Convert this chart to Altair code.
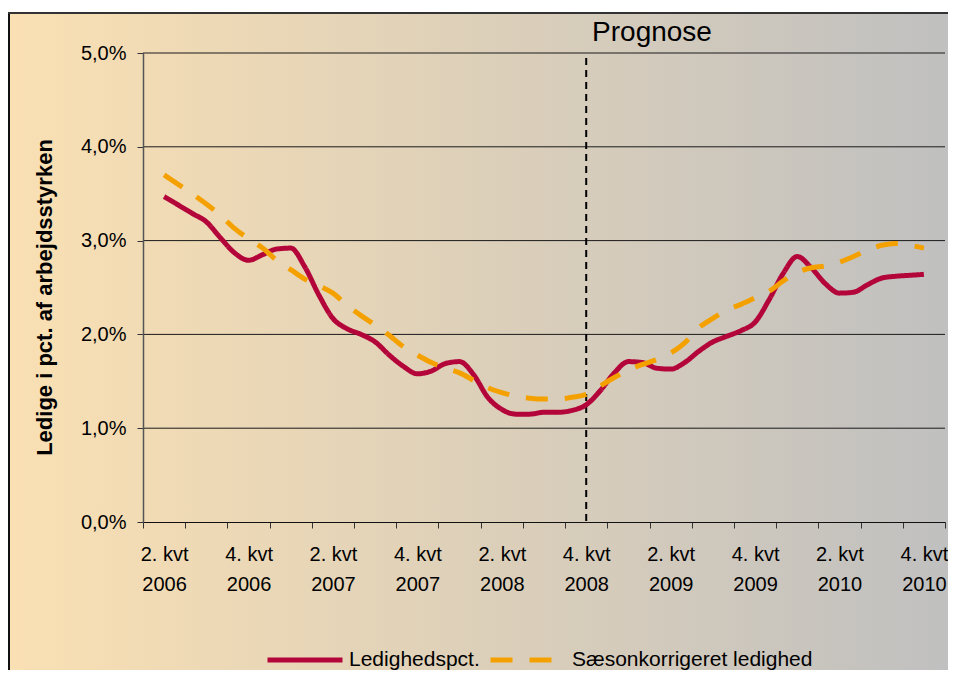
import json
import altair as alt
import pandas as pd

# ---- data ----
maaned = list(range(55))  # monthly points, 2. kvt 2006 .. 4. kvt 2010 (category centres)
ledighed = [3.47, 3.38, 3.29, 3.20, 3.03, 2.87, 2.79, 2.85, 2.91, 2.92,
            2.72, 2.42, 2.17, 2.06, 2.00, 1.92, 1.78, 1.66, 1.58, 1.61,
            1.69, 1.71, 1.57, 1.33, 1.20, 1.15, 1.15, 1.17, 1.17, 1.19,
            1.25, 1.40, 1.59, 1.71, 1.70, 1.64, 1.63, 1.70, 1.82, 1.92,
            1.98, 2.04, 2.13, 2.37, 2.65, 2.83, 2.71, 2.54, 2.44, 2.45,
            2.53, 2.60, 2.62, 2.63, 2.64]
saeson = [3.70, 3.60, 3.50, 3.39, 3.27, 3.13, 3.02, 2.92, 2.79, 2.69,
          2.59, 2.52, 2.44, 2.31, 2.20, 2.10, 1.99, 1.87, 1.78, 1.70,
          1.64, 1.59, 1.51, 1.43, 1.38, 1.34, 1.32, 1.31, 1.31, 1.33,
          1.36, 1.45, 1.54, 1.62, 1.68, 1.73, 1.80, 1.91, 2.07, 2.17,
          2.26, 2.32, 2.39, 2.46, 2.57, 2.66, 2.71, 2.73, 2.77, 2.83,
          2.90, 2.95, 2.97, 2.95, 2.92]
serier = ["Ledighedspct.", "Sæsonkorrigeret ledighed"]
x_labels = [["2. kvt", "2006"], ["4. kvt", "2006"], ["2. kvt", "2007"], ["4. kvt", "2007"],
            ["2. kvt", "2008"], ["4. kvt", "2008"], ["2. kvt", "2009"], ["4. kvt", "2009"],
            ["2. kvt", "2010"], ["4. kvt", "2010"]]
y_ticks = [0, 1, 2, 3, 4, 5]
prognose_start = 10  # quarter index of 4. kvt 2008
n_quarters = 19

FONT = "Liberation Sans"
W, H = 802, 469
PAD_L, PAD_T, PAD_R, PAD_B = 135, 45, 3, 148

rows = []
for m, a, b in zip(maaned, ledighed, saeson):
    rows.append({"t": m / 3, "v": a, "serie": serier[0]})
    rows.append({"t": m / 3, "v": b, "serie": serier[1]})
df = pd.DataFrame(rows)

boundaries = [i - 0.5 for i in range(n_quarters + 1)]
label_expr = ("(datum.value + 0.5) % 2 == 1 ? " + json.dumps(x_labels, ensure_ascii=False)
              + "[(datum.value - 0.5) / 2] : ''")

xscale = alt.Scale(domain=[-0.5, n_quarters - 0.5], nice=False, zero=False)
yscale = alt.Scale(domain=[0, 5], nice=False)

gradient = alt.LinearGradient(
    gradient="linear",
    stops=[alt.GradientStop(color="#FAE0B3", offset=0),
           alt.GradientStop(color="#C0C0C0", offset=1)],
    x1=0, x2=1, y1=0, y2=0)

bg = alt.Chart(pd.DataFrame({"a": [0]})).mark_rect(fill=gradient, stroke=None).encode(
    x=alt.value(-PAD_L), x2=alt.value(W + PAD_R),
    y=alt.value(-40), y2=alt.value(H + PAD_B))
frame_left = alt.Chart(pd.DataFrame({"a": [0]})).mark_rule(color="#111", strokeWidth=2).encode(
    x=alt.value(-PAD_L + 1), y=alt.value(-40), y2=alt.value(H + PAD_B))
frame_top = alt.Chart(pd.DataFrame({"a": [0]})).mark_rule(color="#333", strokeWidth=2).encode(
    x=alt.value(-PAD_L), x2=alt.value(W + PAD_R), y=alt.value(-40))

grid = alt.Chart(pd.DataFrame({"g": y_ticks[1:]})).mark_rule(color="#1a1a1a", strokeWidth=1).encode(
    y=alt.Y("g:Q", scale=yscale))

legend_def = dict(title=None, orient="none", direction="horizontal",
                  legendX=122, legendY=567, symbolType="stroke",
                  symbolSize=5625, symbolStrokeWidth=5, labelFontSize=21,
                  labelFont=FONT, labelColor="#000", labelOffset=4,
                  columnPadding=0, labelLimit=400)

lines = alt.Chart(df).mark_line(strokeWidth=5, interpolate="monotone", strokeCap="butt").encode(
    x=alt.X("t:Q", scale=xscale,
            axis=alt.Axis(values=boundaries, labelExpr=label_expr, title=None, grid=False,
                          tickSize=6, tickColor="#333", domainColor="#111", domainWidth=1,
                          labelOffset=-21.1, labelPadding=16, labelLineHeight=30,
                          labelFontSize=20, labelFont=FONT, labelColor="#000",
                          labelOverlap=False, labelFlush=False, zindex=1)),
    y=alt.Y("v:Q", scale=yscale,
            axis=alt.Axis(values=y_ticks, grid=False, tickSize=6, tickColor="#333",
                          domainColor="#555", domainWidth=1.5,
                          labelExpr="replace(format(datum.value, '.1f'), '.', ',') + '%'",
                          labelFontSize=20, labelFont=FONT, labelColor="#000", labelPadding=11,
                          title="Ledige i pct. af arbejdsstyrken", titleFont=FONT,
                          titleFontSize=22, titleFontWeight="bold", titleColor="#000",
                          titlePadding=24, titleY=244, zindex=1)),
    color=alt.Color("serie:N", scale=alt.Scale(domain=serier, range=["#B3053A", "#F4A100"]),
                    legend=alt.Legend(**legend_def)),
    strokeDash=alt.StrokeDash("serie:N", scale=alt.Scale(domain=serier, range=[[1, 0], [22, 17]]),
                              legend=alt.Legend(**legend_def)),
)

prog_rule = alt.Chart(pd.DataFrame({"p": [prognose_start]})).mark_rule(
    color="#000", strokeWidth=2, strokeDash=[7, 5]).encode(
    x=alt.X("p:Q", scale=xscale), y=alt.value(5), y2=alt.value(H))

prog_text = alt.Chart(pd.DataFrame({"txt": ["Prognose"]})).mark_text(
    font=FONT, fontSize=28, color="#000", align="center", baseline="middle").encode(
    text="txt:N", x=alt.value(509), y=alt.value(-20))

chart = alt.layer(bg, frame_left, frame_top, grid, prog_rule, lines, prog_text).properties(
    width=W, height=H,
    padding={"left": PAD_L, "top": PAD_T, "right": PAD_R, "bottom": PAD_B},
    autosize=alt.AutoSizeParams(type="none"),
).configure_view(stroke=None).configure(background="white")

chart.save("out.html", embed_options={"renderer": "svg", "actions": False})
